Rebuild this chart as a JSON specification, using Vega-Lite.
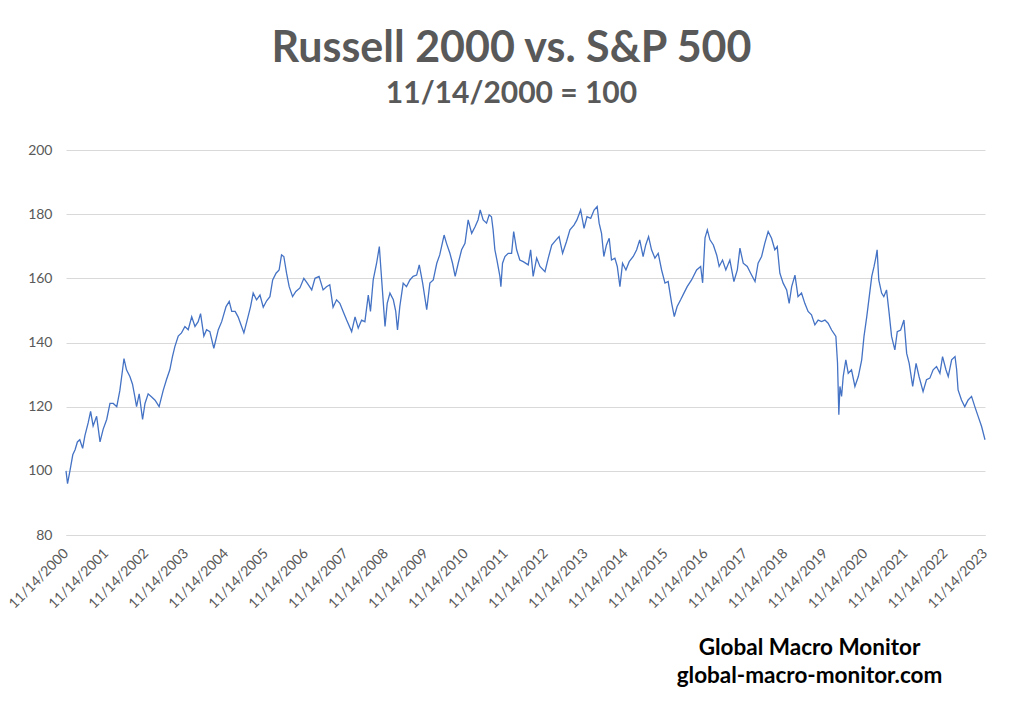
{
  "$schema": "https://vega.github.io/schema/vega-lite/v6.json",
  "autosize": {"type": "none"},
  "width": 919,
  "height": 385,
  "padding": {"left": 66, "top": 150, "right": 39, "bottom": 177},
  "background": "white",
  "config": {"view": {"stroke": null}},
  "title": {
    "text": "Russell 2000 vs. S&P 500",
    "subtitle": "11/14/2000 = 100",
    "anchor": "middle",
    "font": "Lato",
    "fontSize": 43,
    "fontWeight": "bold",
    "color": "#595959",
    "subtitleFont": "Lato",
    "subtitleFontSize": 30,
    "subtitleFontWeight": "bold",
    "subtitleColor": "#595959",
    "subtitlePadding": 8,
    "offset": 34,
    "dx": -14
  },
  "data": {"values": [
    {"date":"2000-11-14","v":100},{"date":"2000-11-28","v":96},{"date":"2000-12-20","v":100},
    {"date":"2001-01-15","v":105},{"date":"2001-02-05","v":106.6},{"date":"2001-02-26","v":109},
    {"date":"2001-03-20","v":109.7},{"date":"2001-04-15","v":107},{"date":"2001-05-06","v":111},
    {"date":"2001-06-05","v":115},{"date":"2001-06-27","v":118.5},{"date":"2001-07-20","v":114},
    {"date":"2001-08-21","v":117},{"date":"2001-09-21","v":109},{"date":"2001-10-20","v":113},
    {"date":"2001-11-21","v":116},{"date":"2001-12-21","v":121},{"date":"2002-01-20","v":121},
    {"date":"2002-02-21","v":120},{"date":"2002-03-21","v":125},{"date":"2002-04-15","v":131.5},
    {"date":"2002-04-28","v":135},{"date":"2002-05-21","v":131.5},{"date":"2002-06-21","v":129.4},
    {"date":"2002-07-15","v":127},{"date":"2002-08-06","v":123},{"date":"2002-08-21","v":120},
    {"date":"2002-09-14","v":124},{"date":"2002-10-15","v":116},{"date":"2002-11-06","v":121},
    {"date":"2002-12-05","v":124},{"date":"2003-01-06","v":123},{"date":"2003-02-06","v":122},
    {"date":"2003-03-15","v":120},{"date":"2003-04-21","v":125},{"date":"2003-05-21","v":128.4},
    {"date":"2003-06-21","v":131.5},{"date":"2003-07-15","v":135.6},{"date":"2003-08-06","v":138.7},
    {"date":"2003-09-06","v":142},{"date":"2003-10-06","v":143},{"date":"2003-11-06","v":145},
    {"date":"2003-12-06","v":144},{"date":"2004-01-07","v":148},{"date":"2004-02-06","v":145},
    {"date":"2004-03-06","v":146.5},{"date":"2004-03-28","v":149},{"date":"2004-04-27","v":142},
    {"date":"2004-05-22","v":144},{"date":"2004-06-21","v":143.4},{"date":"2004-07-27","v":138.2},
    {"date":"2004-09-06","v":144},{"date":"2004-10-07","v":146.5},{"date":"2004-11-16","v":151.2},
    {"date":"2004-12-15","v":152.8},{"date":"2005-01-07","v":149.7},{"date":"2005-02-07","v":149.7},
    {"date":"2005-03-06","v":148},{"date":"2005-04-07","v":145},{"date":"2005-04-28","v":143},
    {"date":"2005-05-28","v":147},{"date":"2005-06-28","v":151.2},{"date":"2005-07-22","v":155.4},
    {"date":"2005-08-22","v":153.3},{"date":"2005-09-22","v":154.8},{"date":"2005-10-22","v":151},
    {"date":"2005-11-22","v":153},{"date":"2005-12-22","v":154.3},{"date":"2006-01-16","v":159.5},
    {"date":"2006-02-16","v":161.6},{"date":"2006-03-16","v":162.6},{"date":"2006-04-07","v":167.3},
    {"date":"2006-04-28","v":166.8},{"date":"2006-05-23","v":161.6},{"date":"2006-06-16","v":157.4},
    {"date":"2006-07-17","v":154.3},{"date":"2006-08-16","v":155.9},{"date":"2006-09-22","v":157},
    {"date":"2006-10-28","v":160},{"date":"2006-11-28","v":158.5},{"date":"2007-01-08","v":156.4},
    {"date":"2007-02-07","v":160},{"date":"2007-03-16","v":160.6},{"date":"2007-04-22","v":156.4},
    {"date":"2007-05-23","v":157.4},{"date":"2007-06-22","v":158},{"date":"2007-07-22","v":151},
    {"date":"2007-08-23","v":153.3},{"date":"2007-09-22","v":152.2},{"date":"2007-10-22","v":149.7},
    {"date":"2007-11-23","v":147},{"date":"2008-01-08","v":143.4},{"date":"2008-02-08","v":148},
    {"date":"2008-03-08","v":144.5},{"date":"2008-04-08","v":147},{"date":"2008-05-08","v":146.5},
    {"date":"2008-06-08","v":154.8},{"date":"2008-06-28","v":149.7},{"date":"2008-07-23","v":159.5},
    {"date":"2008-08-23","v":164.7},{"date":"2008-09-17","v":169.9},{"date":"2008-10-02","v":162.6},
    {"date":"2008-10-17","v":155.4},{"date":"2008-11-08","v":145},{"date":"2008-11-28","v":152.2},
    {"date":"2008-12-23","v":155.4},{"date":"2009-01-23","v":153.3},{"date":"2009-02-14","v":149.7},
    {"date":"2009-03-02","v":143.9},{"date":"2009-03-23","v":151.2},{"date":"2009-04-23","v":158.5},
    {"date":"2009-05-23","v":157.4},{"date":"2009-06-23","v":159.5},{"date":"2009-07-23","v":160.6},
    {"date":"2009-08-24","v":161},{"date":"2009-09-17","v":164.2},{"date":"2009-10-18","v":158.5},
    {"date":"2009-11-24","v":150.2},{"date":"2009-12-23","v":158.5},{"date":"2010-01-23","v":159.5},
    {"date":"2010-02-24","v":164.7},{"date":"2010-03-23","v":167.3},{"date":"2010-05-02","v":173.5},
    {"date":"2010-05-24","v":170.9},{"date":"2010-06-24","v":167.8},{"date":"2010-07-18","v":164.7},
    {"date":"2010-08-11","v":160.6},{"date":"2010-09-08","v":164.7},{"date":"2010-10-09","v":168.9},
    {"date":"2010-11-09","v":170.9},{"date":"2010-12-08","v":178.2},{"date":"2011-01-09","v":174},
    {"date":"2011-02-09","v":176.1},{"date":"2011-03-08","v":178.2},{"date":"2011-03-28","v":181.3},
    {"date":"2011-04-24","v":178.2},{"date":"2011-05-25","v":177.2},{"date":"2011-06-18","v":179.8},
    {"date":"2011-07-09","v":179.2},{"date":"2011-07-24","v":175.1},{"date":"2011-08-09","v":168.9},
    {"date":"2011-08-28","v":165.7},{"date":"2011-09-24","v":160.6},{"date":"2011-10-03","v":157.4},
    {"date":"2011-10-18","v":164.7},{"date":"2011-11-09","v":166.8},{"date":"2011-12-09","v":167.8},
    {"date":"2012-01-09","v":167.8},{"date":"2012-01-28","v":174.6},{"date":"2012-02-24","v":168.9},
    {"date":"2012-03-24","v":165.7},{"date":"2012-04-24","v":165.2},{"date":"2012-06-09","v":164.2},
    {"date":"2012-07-01","v":168.9},{"date":"2012-07-24","v":160.6},{"date":"2012-08-25","v":166.3},
    {"date":"2012-09-24","v":163.7},{"date":"2012-11-09","v":162.1},{"date":"2012-12-09","v":166.3},
    {"date":"2013-01-10","v":170.4},{"date":"2013-02-19","v":172},{"date":"2013-03-18","v":173},
    {"date":"2013-04-19","v":167.8},{"date":"2013-05-25","v":171.5},{"date":"2013-06-25","v":175.1},
    {"date":"2013-08-01","v":176.6},{"date":"2013-08-28","v":178.2},{"date":"2013-10-01","v":181.3},
    {"date":"2013-11-01","v":175.6},{"date":"2013-11-28","v":179.2},{"date":"2014-01-01","v":178.7},
    {"date":"2014-02-01","v":181.3},{"date":"2014-03-01","v":182.4},{"date":"2014-03-19","v":177.2},
    {"date":"2014-04-10","v":174},{"date":"2014-05-01","v":166.8},{"date":"2014-05-25","v":170.4},
    {"date":"2014-06-19","v":172.5},{"date":"2014-07-10","v":165.7},{"date":"2014-08-10","v":166.3},
    {"date":"2014-09-01","v":163.7},{"date":"2014-09-25","v":157.4},{"date":"2014-10-19","v":164.7},
    {"date":"2014-11-19","v":162.6},{"date":"2014-12-19","v":165.2},{"date":"2015-01-25","v":166.8},
    {"date":"2015-02-25","v":168.9},{"date":"2015-03-25","v":172},{"date":"2015-04-25","v":166.8},
    {"date":"2015-05-19","v":170.4},{"date":"2015-06-14","v":173},{"date":"2015-07-11","v":168.9},
    {"date":"2015-08-11","v":166.3},{"date":"2015-09-10","v":167.8},{"date":"2015-10-11","v":162.6},
    {"date":"2015-11-11","v":158.5},{"date":"2015-12-10","v":159},{"date":"2016-01-11","v":152.2},
    {"date":"2016-02-04","v":148.1},{"date":"2016-03-01","v":151.2},{"date":"2016-04-02","v":153.3},
    {"date":"2016-05-02","v":155.4},{"date":"2016-06-01","v":157.4},{"date":"2016-07-11","v":159.5},
    {"date":"2016-08-26","v":162.6},{"date":"2016-10-02","v":163.7},{"date":"2016-10-20","v":158.6},
    {"date":"2016-11-11","v":172.6},{"date":"2016-12-02","v":175.1},{"date":"2016-12-26","v":172},
    {"date":"2017-01-26","v":170.4},{"date":"2017-02-26","v":167.2},{"date":"2017-03-20","v":163.7},
    {"date":"2017-04-20","v":165.7},{"date":"2017-05-20","v":162.6},{"date":"2017-06-26","v":165.7},
    {"date":"2017-08-02","v":159},{"date":"2017-09-02","v":162.6},{"date":"2017-09-26","v":169.4},
    {"date":"2017-10-26","v":164.7},{"date":"2017-12-02","v":163.7},{"date":"2018-01-02","v":161.6},
    {"date":"2018-02-11","v":159},{"date":"2018-03-11","v":164.7},{"date":"2018-04-12","v":166.8},
    {"date":"2018-05-11","v":170.9},{"date":"2018-06-11","v":174.6},{"date":"2018-07-12","v":172.5},
    {"date":"2018-08-11","v":168.9},{"date":"2018-09-02","v":169.9},{"date":"2018-09-26","v":161.6},
    {"date":"2018-10-26","v":158.5},{"date":"2018-11-27","v":156.4},{"date":"2018-12-20","v":152.2},
    {"date":"2019-01-12","v":157.4},{"date":"2019-02-11","v":161},{"date":"2019-03-11","v":154.3},
    {"date":"2019-04-12","v":155.4},{"date":"2019-05-12","v":152.2},{"date":"2019-06-11","v":149.7},
    {"date":"2019-07-12","v":148.6},{"date":"2019-08-12","v":145.5},{"date":"2019-09-11","v":147},
    {"date":"2019-10-12","v":146.5},{"date":"2019-11-12","v":147},{"date":"2019-12-11","v":146},
    {"date":"2020-01-12","v":143.9},{"date":"2020-02-20","v":141.9},{"date":"2020-03-06","v":133.6},
    {"date":"2020-03-18","v":117.5},{"date":"2020-03-28","v":126.3},{"date":"2020-04-12","v":123.2},
    {"date":"2020-04-27","v":129.4},{"date":"2020-05-21","v":134.6},{"date":"2020-06-12","v":130.4},
    {"date":"2020-07-12","v":131.5},{"date":"2020-08-12","v":126.3},{"date":"2020-09-12","v":129.4},
    {"date":"2020-10-13","v":134.6},{"date":"2020-11-03","v":141.9},{"date":"2020-11-28","v":148},
    {"date":"2020-12-21","v":154.3},{"date":"2021-01-13","v":160.6},{"date":"2021-02-03","v":163.7},
    {"date":"2021-02-21","v":166.8},{"date":"2021-03-03","v":168.9},{"date":"2021-03-18","v":159.5},
    {"date":"2021-04-13","v":155.4},{"date":"2021-05-03","v":154.3},{"date":"2021-05-28","v":156.4},
    {"date":"2021-06-21","v":149.1},{"date":"2021-07-13","v":141.9},{"date":"2021-08-12","v":137.7},
    {"date":"2021-09-03","v":143.4},{"date":"2021-10-04","v":143.9},{"date":"2021-11-03","v":147},
    {"date":"2021-11-28","v":136.6},{"date":"2021-12-21","v":133.5},{"date":"2022-01-22","v":126.3},
    {"date":"2022-02-22","v":133.5},{"date":"2022-03-21","v":129.4},{"date":"2022-04-27","v":124.7},
    {"date":"2022-05-28","v":128.4},{"date":"2022-06-28","v":128.9},{"date":"2022-07-28","v":131.5},
    {"date":"2022-08-28","v":132.5},{"date":"2022-09-28","v":130.4},{"date":"2022-10-22","v":135.6},
    {"date":"2022-11-22","v":131.5},{"date":"2022-12-13","v":129.4},{"date":"2023-01-13","v":134.6},
    {"date":"2023-02-13","v":135.6},{"date":"2023-02-28","v":131.5},{"date":"2023-03-13","v":125.2},
    {"date":"2023-04-13","v":122.1},{"date":"2023-05-13","v":120},{"date":"2023-06-13","v":122.1},
    {"date":"2023-07-14","v":123.2},{"date":"2023-08-13","v":120},{"date":"2023-09-13","v":116.9},
    {"date":"2023-10-14","v":113.8},{"date":"2023-11-14","v":109.7}
  ]},
  "mark": {"type": "line", "color": "#4472C4", "strokeWidth": 1.3, "interpolate": "linear"},
  "encoding": {
    "x": {
      "field": "date",
      "type": "temporal",
      "scale": {
        "type": "utc",
        "domain": [{"year": 2000, "month": 11, "date": 14, "utc": true}, {"year": 2023, "month": 11, "date": 14, "utc": true}]
      },
      "axis": {
        "values": [
          {"year": 2000, "month": 11, "date": 14, "utc": true},{"year": 2001, "month": 11, "date": 14, "utc": true},
          {"year": 2002, "month": 11, "date": 14, "utc": true},{"year": 2003, "month": 11, "date": 14, "utc": true},
          {"year": 2004, "month": 11, "date": 14, "utc": true},{"year": 2005, "month": 11, "date": 14, "utc": true},
          {"year": 2006, "month": 11, "date": 14, "utc": true},{"year": 2007, "month": 11, "date": 14, "utc": true},
          {"year": 2008, "month": 11, "date": 14, "utc": true},{"year": 2009, "month": 11, "date": 14, "utc": true},
          {"year": 2010, "month": 11, "date": 14, "utc": true},{"year": 2011, "month": 11, "date": 14, "utc": true},
          {"year": 2012, "month": 11, "date": 14, "utc": true},{"year": 2013, "month": 11, "date": 14, "utc": true},
          {"year": 2014, "month": 11, "date": 14, "utc": true},{"year": 2015, "month": 11, "date": 14, "utc": true},
          {"year": 2016, "month": 11, "date": 14, "utc": true},{"year": 2017, "month": 11, "date": 14, "utc": true},
          {"year": 2018, "month": 11, "date": 14, "utc": true},{"year": 2019, "month": 11, "date": 14, "utc": true},
          {"year": 2020, "month": 11, "date": 14, "utc": true},{"year": 2021, "month": 11, "date": 14, "utc": true},
          {"year": 2022, "month": 11, "date": 14, "utc": true},{"year": 2023, "month": 11, "date": 14, "utc": true}
        ],
        "labelExpr": "utcFormat(datum.value, '%m/%d/%Y')",
        "labelAngle": -45,
        "labelAlign": "right",
        "labelBaseline": "middle",
        "labelFont": "Lato",
        "labelFontSize": 14,
        "labelColor": "#595959",
        "labelPadding": 16,
        "labelOverlap": false,
        "labelFlush": false,
        "ticks": false,
        "grid": false,
        "domainColor": "#D9D9D9",
        "title": ["Global Macro Monitor", "global-macro-monitor.com"],
        "titleFont": "Lato",
        "titleFontSize": 22.5,
        "titleFontWeight": "bold",
        "titleColor": "#000000",
        "titleAlign": "center",
        "titleBaseline": "top",
        "titleLineHeight": 28,
        "titleX": 743,
        "titleY": 101
      }
    },
    "y": {
      "field": "v",
      "type": "quantitative",
      "scale": {"domain": [80, 200], "nice": false, "zero": false},
      "axis": {
        "values": [80, 100, 120, 140, 160, 180, 200],
        "title": null,
        "domain": false,
        "ticks": false,
        "grid": true,
        "gridColor": "#D9D9D9",
        "gridWidth": 1,
        "labelFont": "Lato",
        "labelFontSize": 14,
        "labelColor": "#595959",
        "labelPadding": 14
      }
    }
  }
}
